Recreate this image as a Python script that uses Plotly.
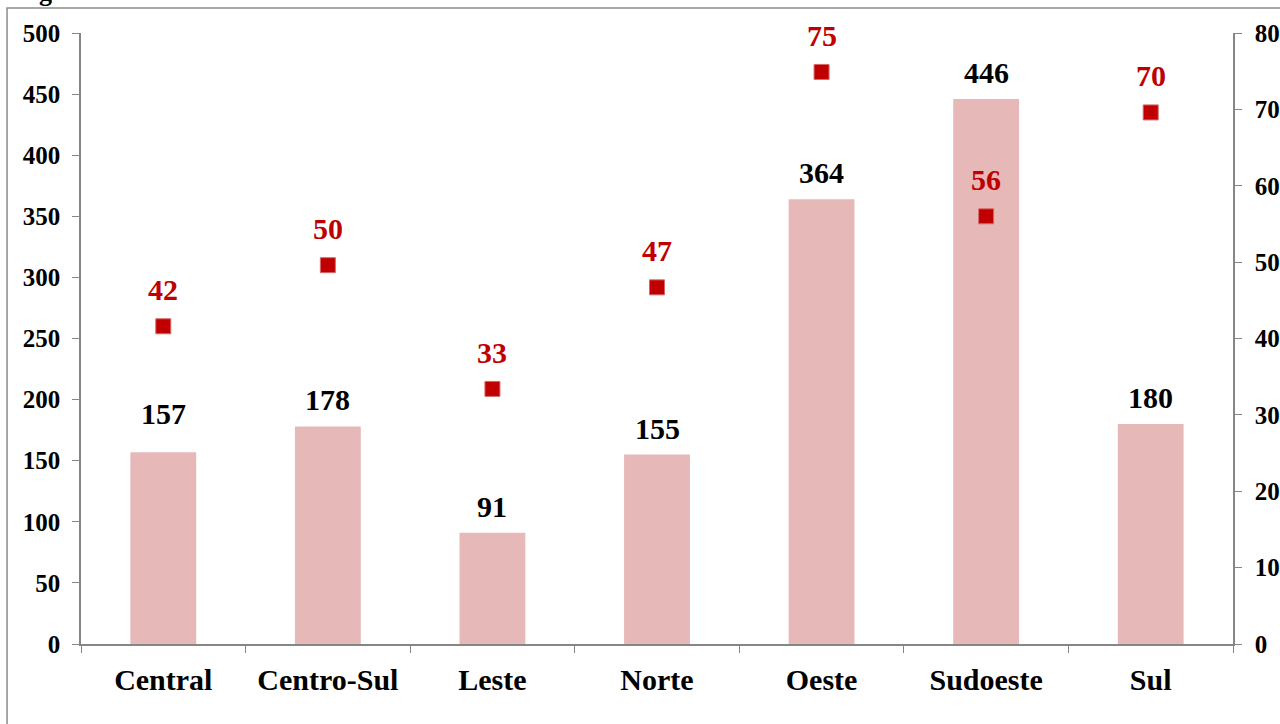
import plotly.graph_objects as go

categories = ["Central", "Centro-Sul", "Leste", "Norte", "Oeste", "Sudoeste", "Sul"]
bar_values = [157, 178, 91, 155, 364, 446, 180]
marker_values = [41.6, 49.6, 33.4, 46.7, 74.9, 56.0, 69.6]
left_ticks = list(range(0, 501, 50))
right_ticks = list(range(0, 81, 10))

FONT = "Liberation Serif"
AXIS_COL = "#868686"
BAR_COL = "#E6B8B7"
RED = "#C00000"

# extra manual nudge for a label (as placed in the original)
bar_label_nudge = {"Central": 12}

fig = go.Figure()
fig.add_trace(go.Bar(
    x=categories, y=bar_values, width=0.4,
    marker=dict(color=BAR_COL, line=dict(width=0)),
    yaxis="y", showlegend=False, hoverinfo="x+y",
))
fig.add_trace(go.Scatter(
    x=categories, y=marker_values, mode="markers",
    marker=dict(symbol="square", size=15, color=RED,
                line=dict(color="#D46A6A", width=1)),
    yaxis="y2", showlegend=False, cliponaxis=False,
))

annotations = []
for c, v in zip(categories, bar_values):
    annotations.append(dict(
        x=c, y=v, xref="x", yref="y", text="<b>%d</b>" % v,
        showarrow=False, xanchor="center", yanchor="bottom",
        yshift=8 + bar_label_nudge.get(c, 0),
        font=dict(family=FONT, size=30, color="#000000")))
for c, v in zip(categories, marker_values):
    annotations.append(dict(
        x=c, y=v, xref="x", yref="y2", text="<b>%.0f</b>" % v,
        showarrow=False, xanchor="center", yanchor="bottom", yshift=18,
        font=dict(family=FONT, size=30, color=RED)))
# cut-off title fragment at the top-left corner of the original
annotations.append(dict(text="<b>g</b>", xref="paper", yref="paper",
                        x=-0.0304, y=1.0385, xanchor="center", yanchor="bottom",
                        showarrow=False,
                        font=dict(family=FONT, size=26, color="#000000")))

fig.update_layout(
    width=1280, height=724,
    margin=dict(l=81, r=47, t=33, b=80, autoexpand=False),
    paper_bgcolor="white", plot_bgcolor="white",
    font=dict(family=FONT, color="#000000"),
    xaxis=dict(
        type="category", showline=True, linecolor=AXIS_COL, linewidth=1.5,
        ticks="outside", tickson="boundaries", ticklen=7, tickcolor=AXIS_COL,
        tickvals=categories, ticktext=["<b>%s</b>" % c for c in categories],
        tickfont=dict(family=FONT, size=30, color="#000000"),
        ticklabelstandoff=8,
        showgrid=False, zeroline=False, automargin=False,
    ),
    yaxis=dict(
        range=[0, 500], showline=True, linecolor=AXIS_COL, linewidth=1.5,
        ticks="outside", ticklen=7, tickcolor=AXIS_COL,
        tickvals=left_ticks, ticktext=["<b>%d</b>" % t for t in left_ticks],
        tickfont=dict(family=FONT, size=25, color="#000000"),
        ticklabelstandoff=7,
        showgrid=False, zeroline=False, automargin=False,
    ),
    yaxis2=dict(
        range=[0, 80], overlaying="y", side="right",
        showline=True, linecolor=AXIS_COL, linewidth=1.5,
        ticks="outside", ticklen=7, tickcolor=AXIS_COL,
        tickvals=right_ticks, ticktext=["<b>%d</b>" % t for t in right_ticks],
        tickfont=dict(family=FONT, size=25, color="#000000"),
        ticklabelstandoff=8,
        showgrid=False, zeroline=False, automargin=False,
    ),
    shapes=[dict(type="rect", xref="paper", yref="paper",
                 x0=-0.0642, x1=1.2, y0=-0.3, y1=1.0409,
                 line=dict(color="#8C8C8C", width=1.5), layer="below")],
    annotations=annotations,
)

fig.write_html("out.html", config={"displayModeBar": False},
               post_script="document.body.style.margin='0px';")
